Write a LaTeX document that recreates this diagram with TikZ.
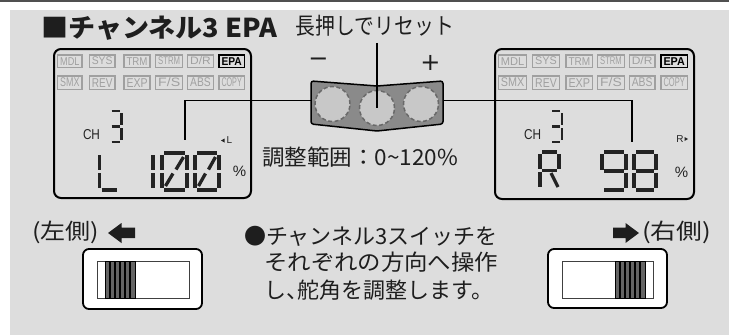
\documentclass[tikz,border=0pt]{standalone}
\usepackage{fontspec}
\usepackage{graphicx}
\setmainfont{Liberation Sans}
\newfontfamily\jp{Noto Sans CJK JP}
\newfontfamily\lcdf[FakeStretch=0.8]{Liberation Sans}
\newfontfamily\dvs{DejaVu Sans}
\definecolor{bgc}{RGB}{221,221,221}
\definecolor{topc}{RGB}{80,80,80}
\definecolor{txtc}{RGB}{30,30,30}
\definecolor{labc}{RGB}{160,160,160}
\definecolor{segc}{RGB}{35,35,35}
\definecolor{panelc}{RGB}{138,138,138}
\definecolor{btnc}{RGB}{200,200,200}
\definecolor{btnd}{RGB}{105,105,105}
\definecolor{knobc}{RGB}{100,100,100}
\newcommand\fitw[2]{\resizebox{#1}{\height}{#2}}
\newcommand\digit[6]{\begin{scope}[shift={(#1,#2)}]\def\dw{#3}\def\dh{#4}\tikzset{segsty/.style={#5}}#6\end{scope}}
\newcommand\SegA{\draw[segsty] (2,0) -- (\dw-2,0);}
\newcommand\SegB{\draw[segsty] (\dw,2) -- (\dw,\dh/2-1.5);}
\newcommand\SegC{\draw[segsty] (\dw,\dh/2+1.5) -- (\dw,\dh-2);}
\newcommand\SegD{\draw[segsty] (2,\dh) -- (\dw-2,\dh);}
\newcommand\SegE{\draw[segsty] (0,\dh/2+1.5) -- (0,\dh-2);}
\newcommand\SegF{\draw[segsty] (0,2) -- (0,\dh/2-1.5);}
\newcommand\SegG{\draw[segsty] (2,\dh/2) -- (\dw-2,\dh/2);}
\newcommand\SegK{\draw[segsty] (\dw-3.5,4) -- (\dw/2+1.5,\dh/2-2);}
\newcommand\SegL{\draw[segsty] (\dw/2-1.5,\dh/2+2) -- (3.5,\dh-4);}
\newcommand\SegM{\draw[segsty] (\dw/2+1.5,\dh/2+2.5) -- (\dw-1,\dh-2);}
\newcommand\lab[7][g]{%
  \pgfmathsetmacro\lw{#3-#2-5}%
  \pgfmathsetmacro\lh{#5-#4-4.5}%
  \draw[lab#1box] (#2,#4) rectangle (#3,#5);
  \node[lab#1txt] (#6) at ({(#2+#3)/2},{(#4+#5)/2}) {\resizebox{\lw pt}{\lh pt}{\lcdf #7}};}
\begin{document}
\begin{tikzpicture}[x=1pt,y=-1pt,
  jpt/.style={inner sep=0, text=txtc, font=\jp\fontsize{22}{24}\selectfont},
  labgbox/.style={draw=labc, line width=1.1pt},
  labgtxt/.style={inner sep=0, text=labc},
  labkbox/.style={draw=black, line width=1.6pt},
  labktxt/.style={inner sep=0, text=black, font=\bfseries},
  lcdbox/.style={draw=black, line width=2pt, rounded corners=7pt},
  conn/.style={draw=black, line width=1.8pt},
  bigseg/.style={draw=segc, line width=3.3pt},
  smallseg/.style={draw=segc, line width=2.5pt},
  btn/.style={circle, fill=btnc, draw=btnd, dash pattern=on 4pt off 2.5pt, line width=1.5pt, minimum size=35pt, inner sep=0},
  outsw/.style={fill=white, draw=black, line width=1.8pt, rounded corners=6pt},
  insw/.style={fill=white, draw=black!75, line width=0.8pt},
  knob/.style={fill=knobc, draw=black, line width=0.8pt},
  arr/.style={fill=txtc}
]
\useasboundingbox (0,0) rectangle (729,335);
\fill[white] (0,0) rectangle (729,335);
\fill[bgc] (10,10) rectangle (729,335);
\fill[topc] (0,0) rectangle (729,2);

% title
\node[anchor=west, inner sep=0, text=txtc, font=\jp\bfseries\fontsize{26}{28}\selectfont] (title) at (41,28) {\fitw{236pt}{■チャンネル3 EPA}};

% LCD boxes
\draw[lcdbox] (54,49) rectangle (251,198);
\draw[lcdbox] (495,49) rectangle (694,199);

% left labels
\lab{57.7}{82}{55}{67.3}{lmdl}{MDL}
\lab{89.3}{115}{55}{67.3}{lsys}{SYS}
\lab{124}{150}{55}{67.3}{ltrm}{TRM}
\lab{155.7}{182.7}{55}{67.3}{lstrm}{STRM}
\lab{187.7}{213.3}{55}{67.3}{ldr}{D/R}
\lab[k]{219}{244.3}{55}{67.3}{lepa}{EPA}
\lab{57.7}{82}{76}{89.3}{lsmx}{SMX}
\lab{89.3}{115}{76}{89.3}{lrev}{REV}
\lab{124}{150}{76}{89.3}{lexp}{EXP}
\lab{155.7}{182.7}{76}{89.3}{lfs}{F/S}
\lab{187.7}{213.3}{76}{89.3}{labs}{ABS}
\lab{219}{244.3}{76}{89.3}{lcopy}{COPY}
% right labels
\lab{498.3}{526.7}{55}{67.3}{rmdl}{MDL}
\lab{532.7}{559.3}{55}{67.3}{rsys}{SYS}
\lab{566}{592.7}{55}{67.3}{rtrm}{TRM}
\lab{597.7}{624.3}{55}{67.3}{rstrm}{STRM}
\lab{629.3}{655}{55}{67.3}{rdr}{D/R}
\lab[k]{661}{687.3}{55}{67.3}{repa}{EPA}
\lab{498.3}{526.7}{76}{89.3}{rsmx}{SMX}
\lab{532.7}{559.3}{76}{89.3}{rrev}{REV}
\lab{566}{592.7}{76}{89.3}{rexp}{EXP}
\lab{597.7}{624.3}{76}{89.3}{rfs}{F/S}
\lab{629.3}{655}{76}{89.3}{rabs}{ABS}
\lab{661}{687.3}{76}{89.3}{rcopy}{COPY}

% left LCD content
\node[inner sep=0, text=segc] (lch) at (91.5,135) {\resizebox{17pt}{10pt}{CH}};
\digit{109.5}{111}{12}{31}{smallseg}{\SegA\SegB\SegC\SegD\SegG}
\digit{99.5}{153}{19}{37}{bigseg}{\SegF\SegE\SegD}
\digit{153}{153}{0}{37}{bigseg}{\SegF\SegE}
\digit{162}{153}{25}{37}{bigseg}{\SegA\SegB\SegC\SegD\SegE\SegF\SegK\SegL}
\digit{195}{153}{24}{37}{bigseg}{\SegA\SegB\SegC\SegD\SegE\SegF\SegK\SegL}
\node[inner sep=0, text=segc, font=\fontsize{10}{10}\selectfont] (lmark) at (229.5,140.5) {L};
\fill[segc] (221,140.5) -- (224.5,138.5) -- (224.5,142.5) -- cycle;
\node[inner sep=0, text=segc, font=\fontsize{15}{15}\selectfont] (lpct) at (239.5,171.5) {\%};

% right LCD content
\node[inner sep=0, text=segc] (rch) at (532.5,135) {\resizebox{17pt}{10pt}{CH}};
\digit{550}{111}{12}{31}{smallseg}{\SegA\SegB\SegC\SegD\SegG}
\digit{540}{152}{19}{37}{bigseg}{\SegA\SegB\SegF\SegG\SegE\SegM}
\digit{602}{152}{24}{38}{bigseg}{\SegA\SegB\SegC\SegD\SegF\SegG}
\digit{634}{152}{22}{38}{bigseg}{\SegA\SegB\SegC\SegD\SegE\SegF\SegG}
\node[inner sep=0, text=segc, font=\fontsize{10}{10}\selectfont] (rmark) at (680,139) {R};
\fill[segc] (688,139) -- (684.5,137) -- (684.5,141) -- cycle;
\node[inner sep=0, text=segc, font=\fontsize{15}{15}\selectfont] (rpct) at (681.5,172) {\%};

% button panel
\draw[fill=panelc, draw=black, line width=1.5pt, rounded corners=2.5pt]
  (311,81) -- (377,86) -- (443,81) -- (443,124) -- (377,131) -- (311,124) -- cycle;
\node[btn] (b1) at (332.5,104) {};
\node[btn] (b2) at (377,108) {};
\node[btn] (b3) at (421,104) {};
\node[inner sep=0, text=txtc, font=\dvs\fontsize{24}{24}\selectfont] (minus) at (318.5,62) {−};
\node[inner sep=0, text=txtc, font=\dvs\fontsize{24}{24}\selectfont] (plus) at (430.5,63) {+};
\node[jpt, font=\jp\fontsize{23}{25}\selectfont] (reset) at (375,26) {\fitw{158pt}{長押しでリセット}};
\draw[conn] ([yshift=-6pt]reset.south -| b2) -- (b2.center);

% connectors to LCDs
\coordinate (pL) at (311,100.5);
\coordinate (pR) at (443,100.5);
\coordinate (tapL) at (185,140);
\coordinate (tapR) at (632,142);
\draw[conn] (pL) -- (tapL |- pL) -- (tapL);
\draw[conn] (pR) -- (tapR |- pR) -- (tapR);

% range text
\node[jpt, anchor=west] (range) at (262,157) {\fitw{196pt}{調整範囲：0\textasciitilde120\%}};

% bottom: sides
\node[jpt, anchor=west] (lside) at (32,232) {\fitw{67pt}{(左側)}};
\node[jpt, anchor=west] (rside) at (642,232) {\fitw{69pt}{(右側)}};
\fill[arr] (108,233) -- (121.5,223) -- (121.5,227.5) -- (135,227.5) -- (135,238) -- (121.5,238) -- (121.5,243) -- cycle;
\fill[arr] (639,233) -- (625.5,223) -- (625.5,227.5) -- (613,227.5) -- (613,238) -- (625.5,238) -- (625.5,243) -- cycle;

% switches
\draw[outsw] (83,249) rectangle (202,309);
\draw[insw] (97,261) rectangle (189,298);
\draw[knob] (105,261) rectangle (135,298);
\foreach \k in {1,...,5} \draw[black, line width=1.1pt] ({105+\k*5},261) -- ({105+\k*5},298);
\draw[outsw] (548,249) rectangle (667,308);
\draw[insw] (562,261) rectangle (653,298);
\draw[knob] (615,261) rectangle (645,298);
\foreach \k in {1,...,5} \draw[black, line width=1.1pt] ({615+\k*5},261) -- ({615+\k*5},298);

% paragraph
\node[jpt, anchor=west] (p1) at (244,236.5) {●チャンネル3スイッチを};
\node[jpt, anchor=west] (p2) at (264,262.5) {\fitw{234pt}{それぞれの方向へ操作}};
\node[jpt, anchor=west] (p3) at (264,290) {し、\kern-0.5em 舵角を調整します。};
\end{tikzpicture}
\end{document}
